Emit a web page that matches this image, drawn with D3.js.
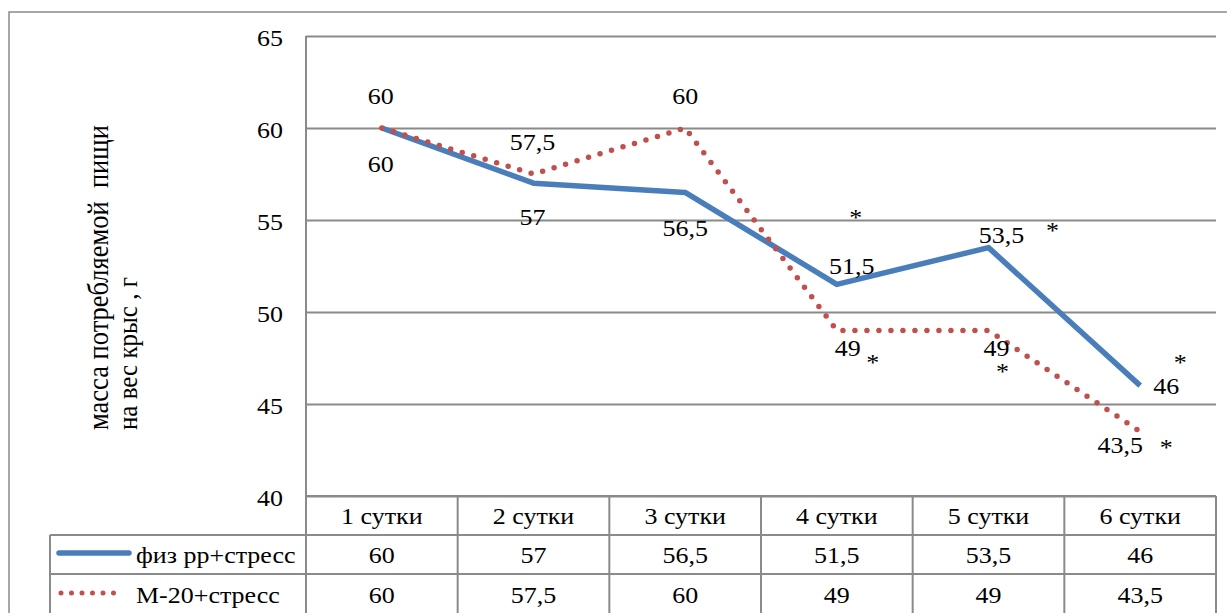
<!DOCTYPE html>
<html><head><meta charset="utf-8">
<script src="https://cdn.jsdelivr.net/npm/d3@7"></script>
<style>
html,body{margin:0;padding:0;background:#fff;}
</style></head>
<body><svg id="c" width="1227" height="613"></svg>
<script>
// ---- data ----
const categories = ["1 сутки","2 сутки","3 сутки","4 сутки","5 сутки","6 сутки"];
const seriesNames = ["физ рр+стресс","М-20+стресс"];
const fizValues = [60, 57, 56.5, 51.5, 53.5, 46];
const m20Values = [60, 57.5, 60, 49, 49, 43.5];
const yTicks = [40, 45, 50, 55, 60, 65];
const yTitle = ["масса потребляемой  пищи", "на вес крыс , г"];
// significance marks (category index, value position)
const starMarks = [[3, 55.4], [4, 54.7], [3, 47.6], [4, 47.1], [5, 47.6], [5, 43.0]];

// ---- layout ----
const W = 1227, H = 613;
const plot = {left: 306, right: 1216, top: 36, bottom: 496};
const rowH = 39;
const legendLeft = 50;
const FS = 23, SX = 1.13;
const FONT = "Liberation Serif";
const fmt = v => String(v).replace(".", ",");

// label offsets [dx, dy(center)]
const fizOff = [[-1, 36], [-1, 34], [0, 36], [15, -18], [13, -13], [26, 0]];
const m20Off = [[-1, -32], [-1, -32], [0, -32], [11, 18], [8, 18], [-20, 13]];
const starOff = [[19, -2], [64, -2], [36, 0], [14, 0], [40, 0], [26, 0]];

const svg = d3.select("#c");
const x = d3.scaleBand().domain(categories).range([plot.left, plot.right]);
const y = d3.scaleLinear().domain([40, 65]).range([plot.bottom, plot.top]);
const grey = "#8a8a8a";

function txt(g, tx, ty, s, anchor, size) {
  return g.append("text")
    .attr("transform", `translate(${tx},${ty}) scale(${SX},1)`)
    .attr("text-anchor", anchor || "middle")
    .attr("font-family", FONT)
    .attr("font-size", size || FS)
    .attr("fill", "#000")
    .text(s);
}

// outer frame
svg.append("rect").attr("x", 9).attr("y", 12).attr("width", W).attr("height", H)
  .attr("fill", "none").attr("stroke", grey).attr("stroke-width", 1.5);

// gridlines via axis
const yAxis = d3.axisLeft(y).tickValues(yTicks).tickSize(-(plot.right - plot.left)).tickFormat("");
const ga = svg.append("g").attr("transform", `translate(${plot.left},0)`).call(yAxis);
ga.select(".domain").remove();
ga.selectAll(".tick line").attr("stroke", grey).attr("stroke-width", 2);

// tick labels
yTicks.forEach(t => txt(svg, 283, y(t) + 10, String(t), "end"));

// vertical axis line
svg.append("line").attr("x1", plot.left).attr("x2", plot.left).attr("y1", plot.top).attr("y2", H + 5)
  .attr("stroke", grey).attr("stroke-width", 2);

// table
const tb = svg.append("g");
const rowTops = [plot.bottom, plot.bottom + rowH, plot.bottom + 2 * rowH];
tb.append("line").attr("x1", plot.left).attr("x2", plot.right).attr("y1", rowTops[0]).attr("y2", rowTops[0])
  .attr("stroke", grey).attr("stroke-width", 2);
[rowTops[1], rowTops[2]].forEach(r => tb.append("line").attr("x1", legendLeft).attr("x2", plot.right)
  .attr("y1", r).attr("y2", r).attr("stroke", grey).attr("stroke-width", 2));
tb.append("line").attr("x1", legendLeft).attr("x2", legendLeft).attr("y1", rowTops[1]).attr("y2", H + 5)
  .attr("stroke", grey).attr("stroke-width", 2);
categories.forEach(c => {
  tb.append("line").attr("x1", x(c) + x.bandwidth()).attr("x2", x(c) + x.bandwidth())
    .attr("y1", plot.bottom).attr("y2", H + 5).attr("stroke", grey).attr("stroke-width", 2);
  const cx = x(c) + x.bandwidth() / 2;
  txt(tb, cx, rowTops[0] + 28, c);
});
fizValues.forEach((v, i) => txt(tb, x(categories[i]) + x.bandwidth() / 2, rowTops[1] + 28, fmt(v)));
m20Values.forEach((v, i) => txt(tb, x(categories[i]) + x.bandwidth() / 2, rowTops[2] + 29, fmt(v)));

// legend keys
const blue = "#4A7EBB", red = "#C0504D";
tb.append("line").attr("x1", 59).attr("x2", 129).attr("y1", rowTops[1] + 18).attr("y2", rowTops[1] + 18)
  .attr("stroke", blue).attr("stroke-width", 5.5).attr("stroke-linecap", "round");
tb.append("line").attr("x1", 61).attr("x2", 124).attr("y1", rowTops[2] + 19).attr("y2", rowTops[2] + 19)
  .attr("stroke", red).attr("stroke-width", 5).attr("stroke-linecap", "round").attr("stroke-dasharray", "0,10.5");
txt(tb, 136, rowTops[1] + 28, seriesNames[0], "start");
txt(tb, 136, rowTops[2] + 29, seriesNames[1], "start");

// lines
const cxOf = i => x(categories[i]) + x.bandwidth() / 2;
const line = d3.line().x((d, i) => cxOf(i)).y(d => y(d));
svg.append("path").datum(fizValues).attr("d", line).attr("fill", "none")
  .attr("stroke", blue).attr("stroke-width", 5.5).attr("stroke-linejoin", "round");
svg.append("path").datum(m20Values).attr("d", line).attr("fill", "none")
  .attr("stroke", red).attr("stroke-width", 5.5).attr("stroke-linecap", "round").attr("stroke-dasharray", "0,12");

// data labels
fizValues.forEach((v, i) => txt(svg, cxOf(i) + fizOff[i][0], y(v) + fizOff[i][1] + 8, fmt(v)));
m20Values.forEach((v, i) => txt(svg, cxOf(i) + m20Off[i][0], y(v) + m20Off[i][1] + 8, fmt(v)));

// stars
starMarks.forEach((s, k) => txt(svg, cxOf(s[0]) + starOff[k][0], y(s[1]) + 14 + starOff[k][1], "*"));

// y title
[[108, yTitle[0], 26.5], [137, yTitle[1], 25]].forEach(([tx, s, fs]) => {
  svg.append("text").attr("transform", `translate(${tx},430) rotate(-90) scale(1,1.12)`)
    .attr("text-anchor", "start").attr("font-family", FONT).attr("font-size", fs)
    .attr("xml:space", "preserve").style("white-space", "pre")
    .attr("fill", "#000").text(s);
});
</script></body></html>
